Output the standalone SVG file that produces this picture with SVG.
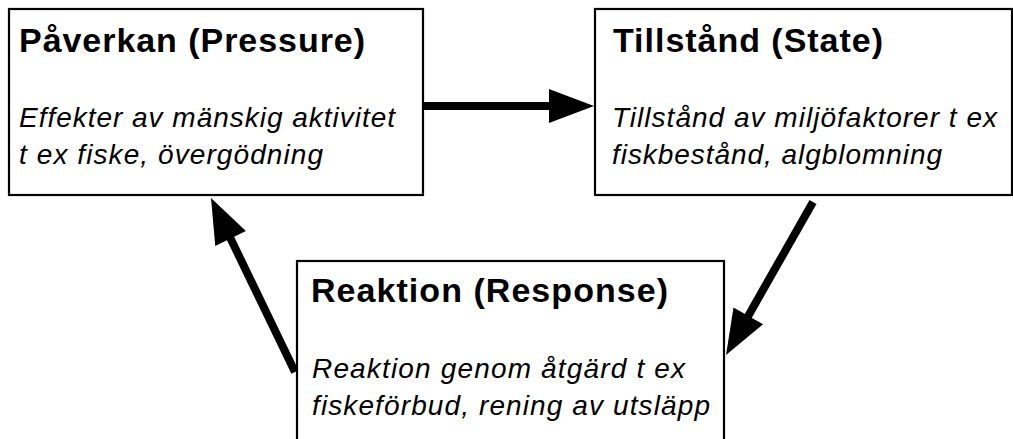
<svg xmlns="http://www.w3.org/2000/svg" width="1013" height="439" viewBox="0 0 1013 439">
<style>
.box{fill:#fff;stroke:#000;stroke-width:2.2}
.t{font-family:"Liberation Sans",Arial,sans-serif;font-weight:bold;font-size:34px;fill:#000}
.d{font-family:"Liberation Sans",Arial,sans-serif;font-style:italic;font-size:28px;fill:#000}
.c{stroke:#000;stroke-width:8;fill:none;marker-end:url(#ah)}
</style>
<defs>
<marker id="ah" markerUnits="userSpaceOnUse" markerWidth="46" markerHeight="34" refX="5" refY="17" orient="auto" overflow="visible">
<path d="M0,0 L45,17 L0,34 Z" fill="#000"/>
</marker>
</defs>
<rect width="1013" height="439" fill="#fff"/>
<g id="connectors">
<line class="c" x1="423" y1="106" x2="554" y2="106"/>
<line class="c" x1="813" y1="202" x2="745.8" y2="320.2"/>
<line class="c" x1="295" y1="372" x2="228.4" y2="234"/>
</g>
<g id="pressure">
<rect class="box" x="9" y="9" width="414" height="186"/>
<text class="t" x="19" y="52" textLength="346" lengthAdjust="spacing">Påverkan (Pressure)</text>
<text class="d" x="19" y="127" textLength="376" lengthAdjust="spacing">Effekter av mänskig aktivitet</text>
<text class="d" x="19" y="164" textLength="304" lengthAdjust="spacing">t ex fiske, övergödning</text>
</g>
<g id="state">
<rect class="box" x="595" y="9" width="417" height="186"/>
<text class="t" x="613" y="52" textLength="270" lengthAdjust="spacing">Tillstånd (State)</text>
<text class="d" x="612" y="127" textLength="385" lengthAdjust="spacing">Tillstånd av miljöfaktorer t ex</text>
<text class="d" x="612" y="164" textLength="330" lengthAdjust="spacing">fiskbestånd, algblomning</text>
</g>
<g id="response">
<rect class="box" x="297" y="261" width="427" height="190"/>
<text class="t" x="311" y="302" textLength="357" lengthAdjust="spacing">Reaktion (Response)</text>
<text class="d" x="312" y="378" textLength="373" lengthAdjust="spacing">Reaktion genom åtgärd t ex</text>
<text class="d" x="312" y="415" textLength="398" lengthAdjust="spacing">fiskeförbud, rening av utsläpp</text>
</g>
</svg>
